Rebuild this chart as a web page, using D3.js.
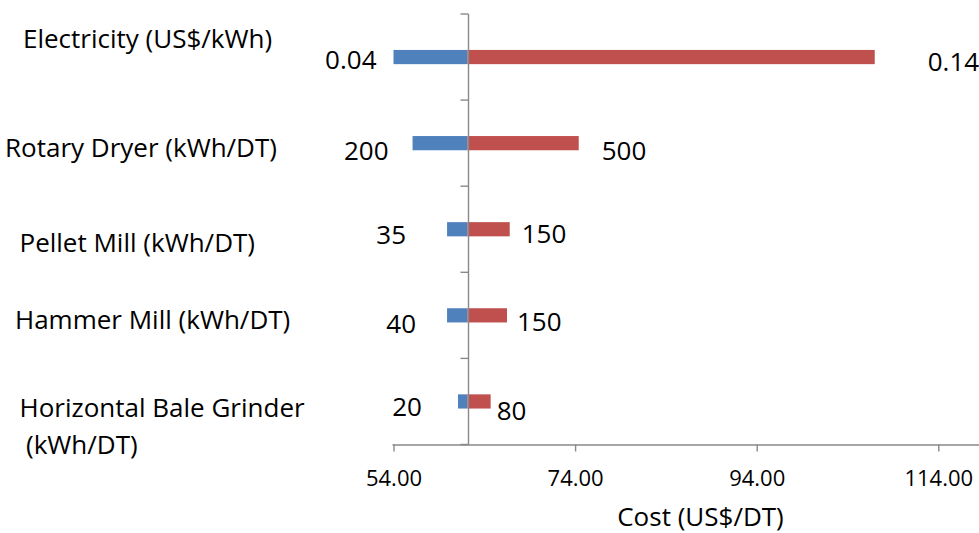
<!DOCTYPE html>
<html>
<head>
<meta charset="utf-8">
<script src="https://cdn.jsdelivr.net/npm/d3@7"></script>
<style>
  html, body { margin: 0; padding: 0; background: #fff; }
  svg { display: block; }
  text { font-family: "Open Sans", "DejaVu Sans", sans-serif; fill: #000; }
</style>
</head>
<body>
<svg id="chart" width="979" height="533"></svg>
<script>
// Sensitivity of pellet production cost (US$/DT) to energy inputs
const categoryLines = [
  ["Electricity (US$/kWh)"],
  ["Rotary Dryer (kWh/DT)"],
  ["Pellet Mill (kWh/DT)"],
  ["Hammer Mill (kWh/DT)"],
  ["Horizontal Bale Grinder", "(kWh/DT)"]
];
const baseCost = 62.15;
const lowCost  = [54.0, 56.1, 59.9, 59.9, 61.1];
const highCost = [107.0, 74.4, 66.8, 66.5, 64.7];
const lowLabels  = ["0.04", "200", "35", "40", "20"];
const highLabels = ["0.14", "500", "150", "150", "80"];
const xTicks = [54, 74, 94, 114];
const xTitle = "Cost (US$/DT)";

// Placement of the hand-positioned labels (gap from bar end, drop below bar centre)
const lowLabelGap  = [17, 24, 41, 31, 36];
const lowLabelDy   = [12, 17, 15, 18, 14.5];
const highLabelGap = [53, 23, 12, 10, 6];
const highLabelDy  = [14, 17, 14, 16, 19];
const catLabelX  = [[23], [5], [19.5], [15], [19.5, 26]];
const catLabelDy = [-9, 13.5, 22.4, 14, 15.2];
const catLineGap = 37.3;

const svg = d3.select("#chart");
const fontSize = 26;
const tickFontSize = 22;

const x = d3.scaleLinear().domain([54, 134]).range([393.5, 393.5 + 80 * 9.08]);
const y = d3.scaleBand()
  .domain(d3.range(categoryLines.length))
  .range([14, 444.5])
  .paddingInner(0.835)
  .paddingOuter(0.4175);

const axisColor = "#898989";
const rows = d3.range(categoryLines.length);

// Low-side (blue) and high-side (red) bars meet at the base cost
svg.append("g").selectAll("rect")
  .data(rows)
  .join("rect")
  .attr("x", i => x(lowCost[i]))
  .attr("y", i => y(i))
  .attr("width", i => x(baseCost) - x(lowCost[i]))
  .attr("height", y.bandwidth())
  .attr("fill", "#4F81BD");

svg.append("g").selectAll("rect")
  .data(rows)
  .join("rect")
  .attr("x", x(baseCost))
  .attr("y", i => y(i))
  .attr("width", i => x(highCost[i]) - x(baseCost))
  .attr("height", y.bandwidth())
  .attr("fill", "#C0504D");

// Horizontal value axis
const xAxis = svg.append("g")
  .attr("transform", "translate(0,444.5)")
  .call(d3.axisBottom(x).tickValues(xTicks).tickSize(7).tickSizeOuter(0)
    .tickFormat(d3.format(".2f")));
xAxis.select(".domain").attr("stroke", axisColor).attr("stroke-width", 1.4)
  .attr("d", `M${x(54) - 1},0.5H979`);
xAxis.selectAll(".tick line").attr("stroke", axisColor).attr("stroke-width", 1.4);
xAxis.selectAll(".tick text")
  .attr("font-size", tickFontSize)
  .attr("font-family", "Open Sans")
  .attr("fill", "#000")
  .attr("y", 26);

svg.append("text")
  .attr("x", 700.5)
  .attr("y", 526)
  .attr("text-anchor", "middle")
  .attr("font-size", fontSize)
  .text(xTitle);

// Vertical category axis through the base cost, with ticks between categories
const baseX = Math.round(x(baseCost)) + 0.5;
const boundaries = rows.map(i => y(i) - y.step() * y.paddingInner() / 2)
  .concat([y.range()[1]]);
svg.append("line")
  .attr("x1", baseX).attr("x2", baseX)
  .attr("y1", boundaries[0]).attr("y2", 444.5)
  .attr("stroke", axisColor).attr("stroke-width", 1.4);
svg.append("g").selectAll("line")
  .data(boundaries)
  .join("line")
  .attr("x1", baseX - 8).attr("x2", baseX)
  .attr("y1", d => d).attr("y2", d => d)
  .attr("stroke", axisColor).attr("stroke-width", 1.4);

// Category names on the left
const cy = i => y(i) + y.bandwidth() / 2;
rows.forEach(i => {
  categoryLines[i].forEach((line, k) => {
    svg.append("text")
      .attr("x", catLabelX[i][k])
      .attr("y", cy(i) + catLabelDy[i] + k * catLineGap)
      .attr("font-size", fontSize)
      .text(line);
  });
});

// Input values at the ends of each bar
svg.append("g").selectAll("text")
  .data(rows)
  .join("text")
  .attr("x", i => x(lowCost[i]) - lowLabelGap[i])
  .attr("y", i => cy(i) + lowLabelDy[i])
  .attr("text-anchor", "end")
  .attr("font-size", fontSize)
  .text(i => lowLabels[i]);

svg.append("g").selectAll("text")
  .data(rows)
  .join("text")
  .attr("x", i => x(highCost[i]) + highLabelGap[i])
  .attr("y", i => cy(i) + highLabelDy[i])
  .attr("text-anchor", "start")
  .attr("font-size", fontSize)
  .text(i => highLabels[i]);
</script>
</body>
</html>
